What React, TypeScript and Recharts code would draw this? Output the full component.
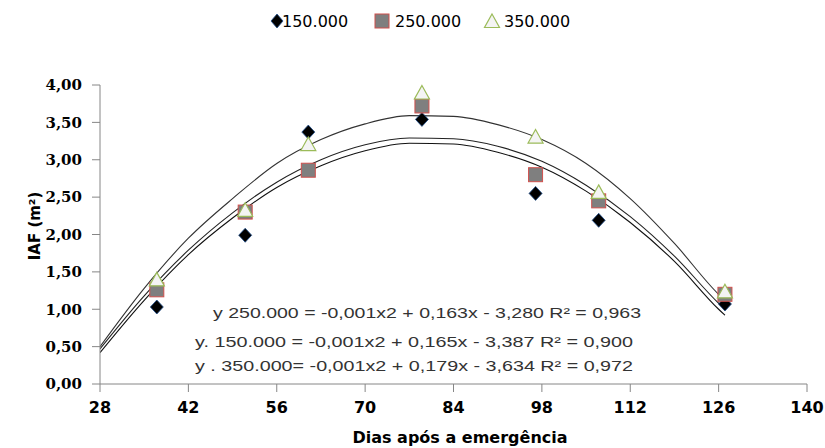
import { ComposedChart, Line, Scatter, XAxis, YAxis } from "recharts";

// pontos observados (dias após a emergência)
const days = [37, 51, 61, 79, 97, 107, 127];
const iaf150 = [1.03, 1.99, 3.37, 3.54, 2.55, 2.19, 1.07];
const iaf250 = [1.26, 2.3, 2.86, 3.72, 2.8, 2.45, 1.2];
const iaf350 = [1.4, 2.33, 3.21, 3.9, 3.31, 2.57, 1.24];

// curvas de tendência
const trendDays = [28, 35, 42, 49, 56, 63, 70, 77, 84, 91, 98, 105, 112, 119, 126, 127];
const trend150 = [0.42, 1.12, 1.73, 2.22, 2.63, 2.92, 3.12, 3.22, 3.21, 3.1, 2.9, 2.58, 2.16, 1.64, 1.0, 0.92];
const trend250 = [0.47, 1.18, 1.79, 2.29, 2.7, 3.0, 3.2, 3.29, 3.28, 3.18, 2.98, 2.66, 2.24, 1.71, 1.08, 1.0];
const trend350 = [0.5, 1.28, 1.95, 2.48, 2.95, 3.27, 3.48, 3.59, 3.58, 3.47, 3.27, 2.95, 2.48, 1.88, 1.2, 1.12];

const xTicks = [28, 42, 56, 70, 84, 98, 112, 126, 140];
const yTicks = [0, 0.5, 1, 1.5, 2, 2.5, 3, 3.5, 4];

const equations = [
  "y 250.000 = -0,001x2 + 0,163x - 3,280 R² = 0,963",
  "y. 150.000 = -0,001x2 + 0,165x - 3,387 R² = 0,900",
  "y . 350.000= -0,001x2 + 0,179x - 3,634 R² = 0,972",
];

const toPts = (xs: number[], ys: number[]) => xs.map((d, i) => ({ day: d, v: ys[i] }));

const Diamond = (p: any) => (
  <polygon
    points={`${p.cx},${p.cy - 7} ${p.cx + 6.5},${p.cy} ${p.cx},${p.cy + 7} ${p.cx - 6.5},${p.cy}`}
    fill="#000"
    stroke="#1f4e8c"
    strokeWidth={0.8}
  />
);
const Square = (p: any) => (
  <rect x={p.cx - 7} y={p.cy - 7} width={14} height={14} fill="#7f7f7f" stroke="#d0504d" strokeWidth={1} />
);
const Triangle = (p: any) => (
  <polygon
    points={`${p.cx},${p.cy - 7} ${p.cx + 7.5},${p.cy + 6.5} ${p.cx - 7.5},${p.cy + 6.5}`}
    fill="#f4f4f4"
    stroke="#9bbb59"
    strokeWidth={1.2}
  />
);

export default function App() {
  return (
    <div style={{ position: "absolute", left: 0, top: 0, width: 825, height: 448, background: "#fff" }}>
      <ComposedChart width={825} height={448} margin={{ top: 85, right: 18, bottom: 0, left: 40 }}>
        <XAxis
          type="number"
          dataKey="day"
          domain={[28, 140]}
          ticks={xTicks}
          allowDataOverflow
          height={64}
          stroke="#868686"
          tickSize={8}
          tickMargin={10}
          tick={{ fill: "#000", fontSize: 16, fontWeight: "bold", fontFamily: "DejaVu Sans" }}
        />
        <YAxis
          type="number"
          domain={[0, 4]}
          ticks={yTicks}
          width={60}
          stroke="#868686"
          tickSize={8}
          tickMargin={10}
          tickFormatter={(v: number) => v.toFixed(2).replace(".", ",")}
          tick={{ fill: "#000", fontSize: 15, fontWeight: "bold", fontFamily: "DejaVu Serif" }}
        />
        <Line data={toPts(trendDays, trend150)} dataKey="v" type="monotone" stroke="#111" strokeWidth={1.1} dot={false} isAnimationActive={false} />
        <Line data={toPts(trendDays, trend250)} dataKey="v" type="monotone" stroke="#222" strokeWidth={1.1} dot={false} isAnimationActive={false} />
        <Line data={toPts(trendDays, trend350)} dataKey="v" type="monotone" stroke="#333" strokeWidth={1.1} dot={false} isAnimationActive={false} />
        <Scatter data={toPts(days, iaf150)} dataKey="v" shape={Diamond} isAnimationActive={false} />
        <Scatter data={toPts(days, iaf250)} dataKey="v" shape={Square} isAnimationActive={false} />
        <Scatter data={toPts(days, iaf350)} dataKey="v" shape={Triangle} isAnimationActive={false} />
      </ComposedChart>
      <svg width={825} height={448} style={{ position: "absolute", left: 0, top: 0, pointerEvents: "none" }}>
        {/* legenda */}
        <g fontFamily="DejaVu Sans" fontSize={16} fill="#000">
          <polygon points="277,14 283,21 277,28 271,21" fill="#000" stroke="#1f4e8c" strokeWidth={0.8} />
          <text x={282} y={27}>150.000</text>
          <rect x={375} y={14} width={14} height={14} fill="#7f7f7f" stroke="#d0504d" />
          <text x={395} y={27}>250.000</text>
          <polygon points="492,14 499.5,27.5 484.5,27.5" fill="#f4f4f4" stroke="#9bbb59" strokeWidth={1.2} />
          <text x={504} y={27}>350.000</text>
        </g>
        {/* equações */}
        <g fontFamily="Liberation Sans" fontSize={15} fill="#333">
          <text x={213} y={318} textLength={428} lengthAdjust="spacingAndGlyphs">{equations[0]}</text>
          <text x={195} y={347} textLength={438} lengthAdjust="spacingAndGlyphs">{equations[1]}</text>
          <text x={195} y={371} textLength={438} lengthAdjust="spacingAndGlyphs">{equations[2]}</text>
        </g>
        <text
          x={0}
          y={0}
          transform="translate(40,226) rotate(-90)"
          textAnchor="middle"
          fontFamily="DejaVu Sans"
          fontWeight="bold"
          fontSize={15}
          fill="#000"
        >
          IAF (m²)
        </text>
        <text x={460} y={443} textAnchor="middle" fontFamily="DejaVu Sans" fontWeight="bold" fontSize={16} fill="#000">
          Dias após a emergência
        </text>
      </svg>
    </div>
  );
}
